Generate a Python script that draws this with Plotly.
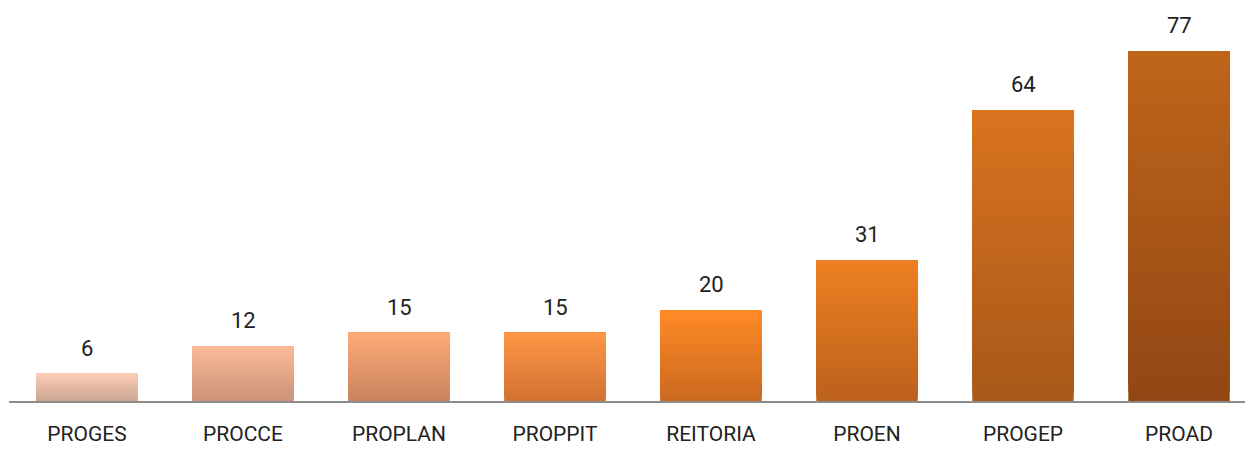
import plotly.graph_objects as go

categories = ["PROGES", "PROCCE", "PROPLAN", "PROPPIT", "REITORIA", "PROEN", "PROGEP", "PROAD"]
values = [6, 12, 15, 15, 20, 31, 64, 77]
top_colors = ["#FCCDB6", "#FBBB97", "#FFAB78", "#FF9647", "#FF8B27", "#EE8022", "#DA731F", "#C0651A"]
bottom_colors = ["#CBA591", "#CB927A", "#C9835F", "#D27232", "#CB681F", "#BC611C", "#A75819", "#914714"]

N_STEPS = 40


def hex_to_rgb(h):
    h = h.lstrip("#")
    return tuple(int(h[i:i + 2], 16) for i in (0, 2, 4))


def mix(c1, c2, t):
    a, b = hex_to_rgb(c1), hex_to_rgb(c2)
    r = [round(a[k] + (b[k] - a[k]) * t) for k in range(3)]
    return f"rgb({r[0]},{r[1]},{r[2]})"


fig = go.Figure()
# vertical gradient: overlapping segments, each running from a fractional base up to the top
for i in range(N_STEPS):
    f = i / N_STEPS
    t = (i + 0.5) / N_STEPS  # 0 at bottom, 1 at top
    colors = [mix(bc, tc, t) for bc, tc in zip(bottom_colors, top_colors)]
    fig.add_trace(go.Bar(
        x=categories,
        y=[v * (1 - f) for v in values],
        base=[v * f for v in values],
        marker=dict(color=colors, line=dict(width=0)),
        hoverinfo="skip",
        showlegend=False,
    ))

for c, v in zip(categories, values):
    fig.add_annotation(x=c, y=v, text=str(v), showarrow=False, yanchor="bottom",
                       yshift=11, font=dict(size=22, color="#222222", family="Roboto"))

fig.update_layout(
    width=1245, height=450,
    margin=dict(l=9, r=0, t=0, b=49),
    plot_bgcolor="white", paper_bgcolor="white",
    barmode="overlay", bargap=0.35,
    font=dict(family="Roboto", size=21, color="#222222"),
    showlegend=False,
)
fig.update_xaxes(range=[-0.5, 7.423], showline=True, linecolor="#8C8C8C", linewidth=2,
                 ticks="", ticklabelstandoff=13, tickfont=dict(size=21, color="#222222"),
                 showgrid=False, fixedrange=True, automargin=False)
fig.update_yaxes(range=[0, 88.2], visible=False, showgrid=False, fixedrange=True)

fig.write_html("out.html", config={"displayModeBar": False},
               post_script="document.body.style.margin='0';document.body.style.overflow='hidden';")
